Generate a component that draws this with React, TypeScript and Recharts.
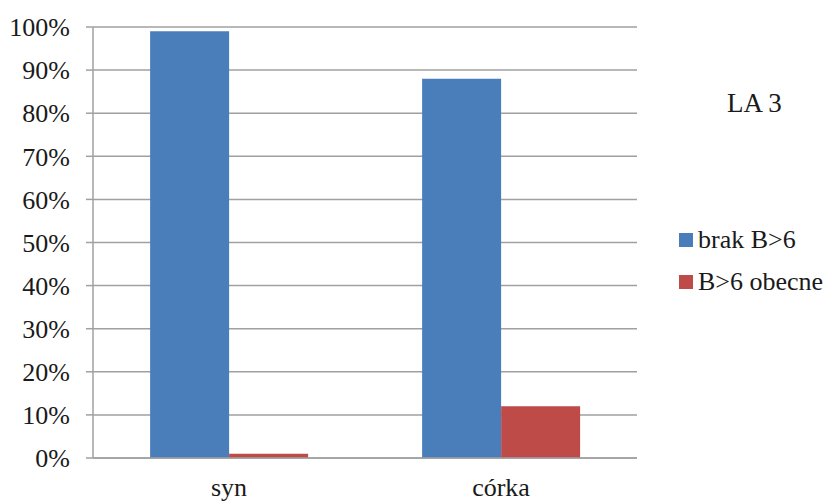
import { Bar, BarChart, CartesianGrid, XAxis, YAxis } from "recharts";

const categories = ["syn", "córka"];
const brakValues = [99, 88];
const obecneValues = [1, 12];
const yTicks = [0, 10, 20, 30, 40, 50, 60, 70, 80, 90, 100];
const edgeTicks = [0, 1, 2];

const seriesNames = { brak: "brak B>6", obecne: "B>6 obecne" };
const title = "LA 3";

const BLUE = "#4a7ebb";
const RED = "#be4b48";
const GRID = "#a0a0a0";
const FONT = "Times New Roman, Liberation Serif, DejaVu Serif, serif";

const data = categories.map((name, i) => ({
  name,
  brak: brakValues[i],
  obecne: obecneValues[i],
}));

function LegendBox() {
  const items = [
    { label: seriesNames.brak, color: BLUE },
    { label: seriesNames.obecne, color: RED },
  ];
  return (
    <div
      style={{
        position: "absolute",
        left: 679,
        top: 219,
        fontFamily: FONT,
        fontSize: 26,
        color: "#1a1a1a",
      }}
    >
      {items.map((item) => (
        <div
          key={item.label}
          style={{ display: "flex", alignItems: "center", height: 42, whiteSpace: "nowrap" }}
        >
          <span
            style={{
              display: "inline-block",
              width: 14,
              height: 14,
              background: item.color,
              marginRight: 5,
            }}
          />
          <span>{item.label}</span>
        </div>
      ))}
    </div>
  );
}

export default function App() {
  return (
    <div style={{ position: "absolute", left: 0, top: 0, width: 830, height: 502, background: "#fff" }}>
      <BarChart
        width={830}
        height={502}
        data={data}
        margin={{ top: 27, right: 193, bottom: 0, left: 0 }}
        barCategoryGap="21%"
        barGap={0}
      >
        <CartesianGrid vertical={false} stroke={GRID} strokeWidth={1.5} />
        <XAxis
          xAxisId="edges"
          type="number"
          domain={[0, 2]}
          ticks={edgeTicks}
          tick={false}
          axisLine={false}
          tickSize={7}
          stroke={GRID}
          height={0}
        />
        <XAxis
          dataKey="name"
          height={44}
          tickLine={false}
          axisLine={{ stroke: GRID, strokeWidth: 1.5 }}
          tickMargin={14}
          tick={{ fill: "#1a1a1a", fontSize: 26, fontFamily: FONT }}
        />
        <YAxis
          width={93}
          domain={[0, 100]}
          ticks={yTicks}
          tickFormatter={(v) => `${v}%`}
          tickSize={7}
          tickMargin={16}
          axisLine={{ stroke: GRID, strokeWidth: 1.5 }}
          tickLine={{ stroke: GRID, strokeWidth: 1.5 }}
          tick={{ fill: "#1a1a1a", fontSize: 26, fontFamily: FONT }}
        />
        <Bar dataKey="brak" name={seriesNames.brak} fill={BLUE} isAnimationActive={false} />
        <Bar dataKey="obecne" name={seriesNames.obecne} fill={RED} isAnimationActive={false} />
      </BarChart>
      <LegendBox />
      <div
        style={{
          position: "absolute",
          left: 727,
          top: 88,
          fontFamily: FONT,
          fontSize: 27,
          color: "#1a1a1a",
          lineHeight: "30px",
          whiteSpace: "nowrap",
        }}
      >
        {title}
      </div>
    </div>
  );
}
